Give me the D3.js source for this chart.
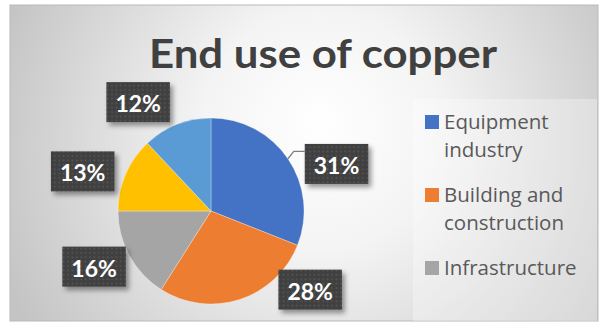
<!DOCTYPE html>
<html>
<head>
<meta charset="utf-8">
<script src="https://cdn.jsdelivr.net/npm/d3@7"></script>
<style>
  html, body { margin: 0; padding: 0; background: #ffffff; }
  svg { display: block; }
</style>
</head>
<body>
<svg id="chart" width="602" height="330"></svg>
<script>
// End-use shares of copper (percent)
const categories = ["Equipment industry", "Building and construction", "Infrastructure", "Transport", "Industrial"];
const shares = [31, 28, 16, 13, 12];
const colors = ["#4472C4", "#ED7D31", "#A5A5A5", "#FFC000", "#5B9BD5"];
const titleText = "End use of copper";

// Manual label placement: pixel nudge from the radial anchor, and leader line flag
const labelNudge = [[18, 26], [59, -45], [-3, -7], [-9, 12], [-25, 12]];
const labelLeader = [true, false, false, false, false];

const svg = d3.select("#chart");
const frame = { x: 10, y: 5, w: 588, h: 316 };
const cx = 211, cy = 211, R = 93;

const defs = svg.append("defs");

// Chart area background: soft radial fade from white to grey
const bg = defs.append("radialGradient")
  .attr("id", "bgGrad")
  .attr("gradientUnits", "userSpaceOnUse")
  .attr("cx", 320).attr("cy", 150).attr("r", 340)
  .attr("fx", 320).attr("fy", 120);
bg.append("stop").attr("offset", "0%").attr("stop-color", "#ffffff");
bg.append("stop").attr("offset", "35%").attr("stop-color", "#f4f4f4");
bg.append("stop").attr("offset", "100%").attr("stop-color", "#c4c4c4");

// Dotted dark fill for data labels
const pat = defs.append("pattern")
  .attr("id", "dots")
  .attr("patternUnits", "userSpaceOnUse")
  .attr("width", 4.4).attr("height", 4.4);
pat.append("rect").attr("width", 4.4).attr("height", 4.4).attr("fill", "#3f3f3f");
pat.append("rect").attr("x", 1.4).attr("y", 1.4).attr("width", 1.6).attr("height", 1.6).attr("fill", "#5a5a5a");

// Drop shadow for label boxes
const sh = defs.append("filter").attr("id", "shadow")
  .attr("x", "-30%").attr("y", "-30%").attr("width", "160%").attr("height", "170%");
sh.append("feDropShadow")
  .attr("dx", 3).attr("dy", 3.5).attr("stdDeviation", 2.5)
  .attr("flood-color", "#000").attr("flood-opacity", 0.4);

svg.append("rect")
  .attr("x", frame.x).attr("y", frame.y)
  .attr("width", frame.w).attr("height", frame.h)
  .attr("fill", "url(#bgGrad)")
  .attr("stroke", "#b9b9b9").attr("stroke-width", 1);

// Title
svg.append("text")
  .attr("x", 323).attr("y", 68)
  .attr("text-anchor", "middle")
  .attr("font-family", "Lato, 'Open Sans', sans-serif")
  .attr("font-weight", 700)
  .attr("font-size", 41)
  .attr("textLength", 348)
  .attr("lengthAdjust", "spacingAndGlyphs")
  .attr("fill", "#404040")
  .text(titleText);

// Pie
const pie = d3.pie().sort(null).value(d => d)(shares);
const arc = d3.arc().innerRadius(0).outerRadius(R);
const edgeArc = d3.arc().innerRadius(R).outerRadius(R);
const labelArc = d3.arc().innerRadius(130).outerRadius(130);

const g = svg.append("g").attr("transform", `translate(${cx},${cy})`);
g.selectAll("path.slice")
  .data(pie)
  .join("path")
  .attr("class", "slice")
  .attr("d", arc)
  .attr("fill", (d, i) => colors[i])
  .attr("stroke", "#ffffff")
  .attr("stroke-opacity", 0.5)
  .attr("stroke-width", 0.6);

// Data labels
const labelFont = "Lato, 'Open Sans', sans-serif";
const boxH = 40, padX = 9;
const labels = g.selectAll("g.lbl")
  .data(pie)
  .join("g")
  .attr("class", "lbl");

labels.each(function (d, i) {
  const sel = d3.select(this);
  const [ax, ay] = labelArc.centroid(d);
  const lx = ax + labelNudge[i][0];
  const ly = ay + labelNudge[i][1];
  const txt = sel.append("text")
    .attr("x", lx).attr("y", ly)
    .attr("text-anchor", "middle")
    .attr("dominant-baseline", "central")
    .attr("font-family", labelFont)
    .attr("font-weight", 700)
    .attr("font-size", 23)
    .attr("fill", "#ffffff")
    .text(d3.format(".0%")(d.data / d3.sum(shares)));
  const tw = txt.node().getComputedTextLength();
  const bw = tw + padX * 2;
  const bx = lx - bw / 2, by = ly - boxH / 2;

  if (labelLeader[i]) {
    const [ex, ey] = edgeArc.centroid(d);
    sel.insert("polyline", "text")
      .attr("points", [[ex, ey], [bx - 11, by + 7.5], [bx, by + 7.5]].map(p => p.join(",")).join(" "))
      .attr("fill", "none")
      .attr("stroke", "#808080")
      .attr("stroke-width", 1.3);
  }
  sel.insert("rect", "text")
    .attr("x", bx).attr("y", by)
    .attr("width", bw).attr("height", boxH)
    .attr("fill", "url(#dots)")
    .attr("filter", "url(#shadow)");
  txt.attr("dy", 1);
});

// Legend
const leg = { x: 413, y: 99, w: 184, h: 222 };
svg.append("rect")
  .attr("x", leg.x).attr("y", leg.y)
  .attr("width", leg.w).attr("height", leg.h)
  .attr("fill", "#ffffff").attr("fill-opacity", 0.3);

const legFont = "'Open Sans', sans-serif";
const legSize = 20.5, lineH = 28, entryGap = 17, wrapW = 145;
const measurer = svg.append("text")
  .attr("font-family", legFont).attr("font-size", legSize)
  .attr("visibility", "hidden");
function textW(s) { measurer.text(s); return measurer.node().getComputedTextLength(); }
function wrap(s) {
  const words = s.split(" ");
  const lines = [];
  let cur = "";
  words.forEach(w => {
    const t = cur ? cur + " " + w : w;
    if (cur && textW(t) > wrapW) { lines.push(cur); cur = w; } else { cur = t; }
  });
  if (cur) lines.push(cur);
  return lines;
}

let baseY = 129;
const legendG = svg.append("g");
categories.forEach((name, i) => {
  const lines = wrap(name);
  const lastBase = baseY + (lines.length - 1) * lineH;
  if (lastBase + 8 > leg.y + leg.h) return; // entries that do not fit are left out
  legendG.append("rect")
    .attr("x", 425).attr("y", baseY - 14)
    .attr("width", 14).attr("height", 14)
    .attr("fill", colors[i]);
  const t = legendG.append("text")
    .attr("font-family", legFont)
    .attr("font-size", legSize)
    .attr("fill", "#595959");
  lines.forEach((ln, k) => {
    t.append("tspan").attr("x", 444).attr("y", baseY + k * lineH).text(ln);
  });
  baseY = lastBase + lineH + entryGap;
  if (baseY > leg.y + leg.h) baseY = Infinity;
});
measurer.remove();
</script>
</body>
</html>
